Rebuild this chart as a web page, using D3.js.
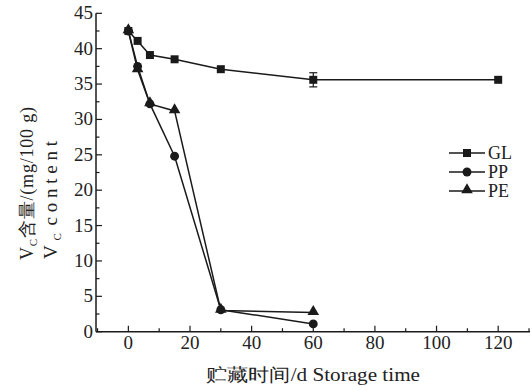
<!DOCTYPE html>
<html>
<head>
<meta charset="utf-8">
<script src="https://cdn.jsdelivr.net/npm/d3@7"></script>
<style>
  body { margin: 0; background: #fff; }
</style>
</head>
<body>
<div id="root"></div>
<script>
// data
const days = [0, 3, 7, 15, 30, 60, 120];
const glValues = [42.5, 41.1, 39.1, 38.5, 37.1, 35.6, 35.6];
const glErrors = [0, 0, 0, 0, 0, 1.0, 0];
const ppDays = [0, 3, 7, 15, 30, 60];
const ppValues = [42.5, 37.5, 32.2, 24.8, 3.1, 1.1];
const peDays = [0, 3, 7, 15, 30, 60];
const peValues = [42.5, 37.0, 32.2, 31.2, 3.0, 2.7];
const seriesNames = ["GL", "PP", "PE"];
const xTicks = [0, 20, 40, 60, 80, 100, 120];
const yTicks = [0, 5, 10, 15, 20, 25, 30, 35, 40, 45];

const width = 532, height = 390;
const serif = "Liberation Serif";
const svg = d3.select("#root")
    .append("svg")
    .attr("width", width)
    .attr("height", height);

const x = d3.scaleLinear().domain([-10.5, 130]).range([96, 529]);
const y = d3.scaleLinear().domain([0, 45]).range([331.7, 13.3]);

const ink = "#1a1a1a";

// small helper so every label gets the serif face
function label(sel, size) {
    return sel.style("font-family", serif)
        .style("font-size", size + "px")
        .attr("fill", "#222");
}

// Y axis
svg.append("line")
    .attr("x1", 96).attr("x2", 96)
    .attr("y1", y(45)).attr("y2", y(0))
    .attr("stroke", ink).attr("stroke-width", 1.5);
// x axis
svg.append("line")
    .attr("x1", 96).attr("x2", 530)
    .attr("y1", y(0)).attr("y2", y(0))
    .attr("stroke", ink).attr("stroke-width", 1.5);

// y ticks (inward)
const yMinor = d3.range(2.5, 45, 5);
svg.selectAll(".ymaj").data(yTicks).enter().append("line")
    .attr("x1", 96).attr("x2", 102)
    .attr("y1", d => y(d)).attr("y2", d => y(d))
    .attr("stroke", ink).attr("stroke-width", 1.2);
svg.selectAll(".ymin").data(yMinor).enter().append("line")
    .attr("x1", 96).attr("x2", 99.5)
    .attr("y1", d => y(d)).attr("y2", d => y(d))
    .attr("stroke", ink).attr("stroke-width", 1.2);
label(svg.selectAll(".ylab").data(yTicks).enter().append("text")
    .attr("x", 93).attr("y", d => y(d) + 6)
    .attr("text-anchor", "end"), 19)
    .text(d => d);

// x ticks (inward)
const xMinor = [-10, 10, 30, 50, 70, 90, 110, 130];
svg.selectAll(".xmaj").data(xTicks).enter().append("line")
    .attr("x1", d => x(d)).attr("x2", d => x(d))
    .attr("y1", y(0)).attr("y2", y(0) - 6)
    .attr("stroke", ink).attr("stroke-width", 1.2);
svg.selectAll(".xmin").data(xMinor.filter(d => x(d) > 97 && x(d) < 530)).enter().append("line")
    .attr("x1", d => x(d)).attr("x2", d => x(d))
    .attr("y1", y(0)).attr("y2", y(0) - 3.5)
    .attr("stroke", ink).attr("stroke-width", 1.2);
label(svg.selectAll(".xlab").data(xTicks).enter().append("text")
    .attr("x", d => x(d)).attr("y", 349)
    .attr("text-anchor", "middle"), 19)
    .text(d => d);

// axis titles (the original face is a bit wider, so stretch to the measured widths)
label(svg.append("text")
    .attr("x", 206).attr("y", 381)
    .attr("textLength", 214)
    .attr("lengthAdjust", "spacingAndGlyphs"), 18)
    .text("贮藏时间/d Storage time");

const yt1 = label(svg.append("text")
    .attr("transform", "translate(33,260) rotate(-90)")
    .attr("textLength", 153)
    .attr("lengthAdjust", "spacing"), 18);
yt1.append("tspan").text("V");
yt1.append("tspan").attr("dy", 4).style("font-size", "11px").text("C");
yt1.append("tspan").attr("dy", -4).text("含量/(mg/100 g)");

const yt2 = label(svg.append("text")
    .attr("transform", "translate(57,259) rotate(-90)")
    .attr("textLength", 118)
    .attr("lengthAdjust", "spacing"), 19);
yt2.append("tspan").text("V");
yt2.append("tspan").attr("dy", 4).style("font-size", "11px").text("C");
yt2.append("tspan").attr("dy", -4).attr("dx", 3).text("content");

// series
const gl = days.map((d, i) => ({ x: d, y: glValues[i], e: glErrors[i] }));
const pp = ppDays.map((d, i) => ({ x: d, y: ppValues[i] }));
const pe = peDays.map((d, i) => ({ x: d, y: peValues[i] }));

const line = d3.line().x(d => x(d.x)).y(d => y(d.y));
[gl, pp, pe].forEach(s => {
    svg.append("path")
        .attr("d", line(s))
        .attr("fill", "none")
        .attr("stroke", ink)
        .attr("stroke-width", 1.5);
});

// error bars
gl.filter(d => d.e > 0).forEach(d => {
    const g = svg.append("g").attr("stroke", ink).attr("stroke-width", 1.2);
    g.append("line").attr("x1", x(d.x)).attr("x2", x(d.x))
        .attr("y1", y(d.y + d.e)).attr("y2", y(d.y - d.e));
    [d.y + d.e, d.y - d.e].forEach(v => {
        g.append("line").attr("x1", x(d.x) - 4).attr("x2", x(d.x) + 4)
            .attr("y1", y(v)).attr("y2", y(v));
    });
});

const sqr = d3.symbol().type(d3.symbolSquare).size(64);
const cir = d3.symbol().type(d3.symbolCircle).size(62);
const tri = d3.symbol().type(d3.symbolTriangle).size(58);

svg.selectAll(".gl").data(gl).enter().append("path")
    .attr("d", sqr).attr("fill", ink)
    .attr("transform", d => `translate(${x(d.x)},${y(d.y)})`);
svg.selectAll(".pe").data(pe).enter().append("path")
    .attr("d", tri).attr("fill", ink)
    .attr("transform", d => `translate(${x(d.x)},${y(d.y) - 1})`);
svg.selectAll(".pp").data(pp).enter().append("path")
    .attr("d", cir).attr("fill", ink)
    .attr("transform", d => `translate(${x(d.x)},${y(d.y)})`);

// legend
const symbols = [sqr, cir, tri];
seriesNames.forEach((name, i) => {
    const ly = 153 + i * 19;
    svg.append("line")
        .attr("x1", 449).attr("x2", 485)
        .attr("y1", ly).attr("y2", ly)
        .attr("stroke", ink).attr("stroke-width", 1.5);
    svg.append("path")
        .attr("d", symbols[i])
        .attr("fill", ink)
        .attr("transform", `translate(467,${ly - (i === 2 ? 1 : 0)})`);
    label(svg.append("text")
        .attr("x", 488).attr("y", ly + 6), 18)
        .text(name);
});
</script>
</body>
</html>
